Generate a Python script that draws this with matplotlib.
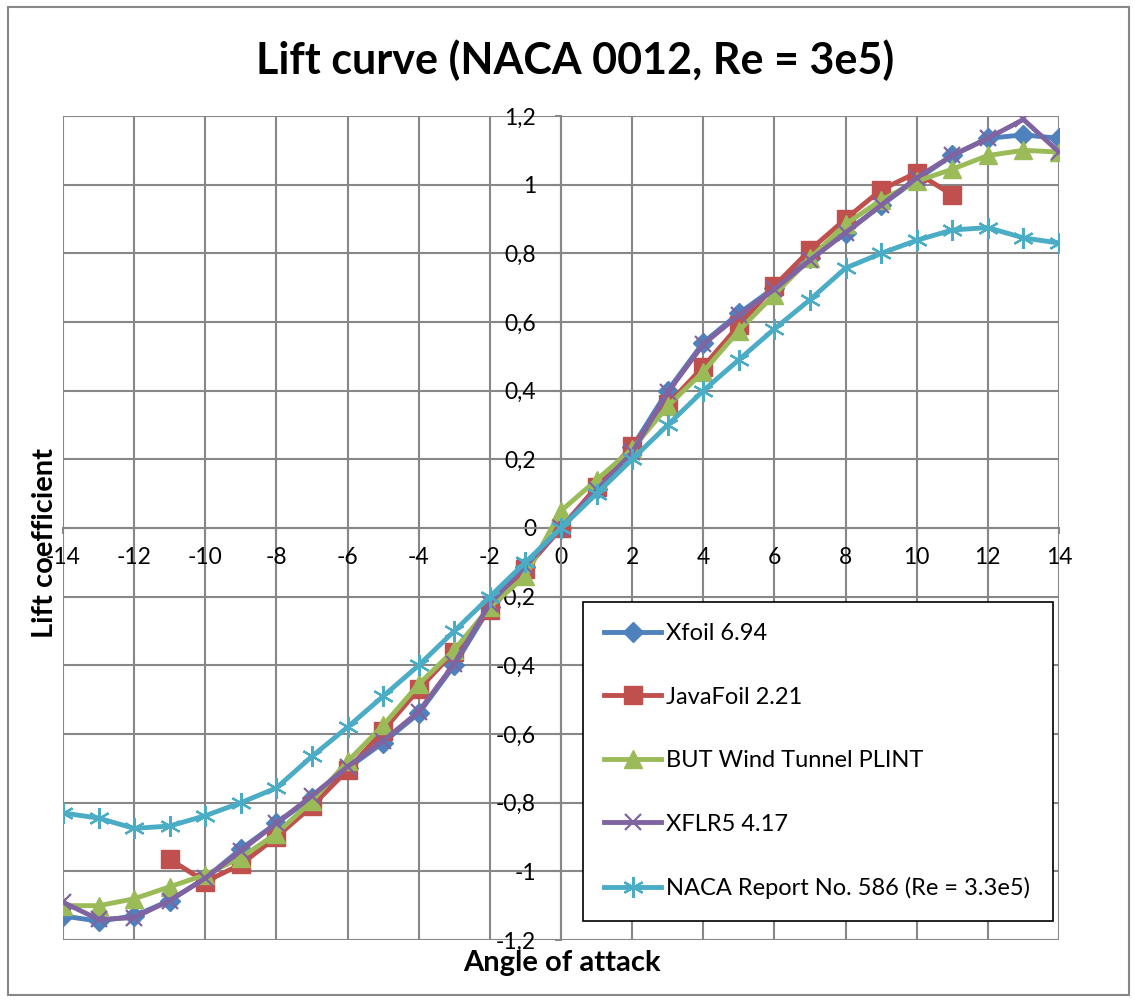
import matplotlib
matplotlib.use('Agg')
import matplotlib.pyplot as plt
from matplotlib.ticker import FuncFormatter, MultipleLocator
from matplotlib.patches import Rectangle

plt.rcParams['font.family'] = ['Lato', 'DejaVu Sans']

### Data ###

alpha_full = list(range(-14, 15))
alpha_javafoil = list(range(-11, 12))

cl_xfoil = [-1.13, -1.145, -1.13, -1.085, -1.02, -0.935, -0.86, -0.785, -0.70, -0.625,
            -0.54, -0.40, -0.23, -0.115, 0.0, 0.115, 0.235, 0.40, 0.54, 0.625,
            0.70, 0.785, 0.86, 0.94, 1.015, 1.085, 1.135, 1.145, 1.135]
cl_javafoil = [-0.965, -1.03, -0.98, -0.90, -0.81, -0.705, -0.59, -0.47, -0.36, -0.24,
               -0.12, 0.0, 0.12, 0.24, 0.36, 0.47, 0.59, 0.705, 0.81, 0.90,
               0.985, 1.035, 0.97]
cl_tunnel = [-1.10, -1.10, -1.08, -1.045, -1.01, -0.96, -0.89, -0.795, -0.68, -0.575,
             -0.455, -0.355, -0.23, -0.14, 0.05, 0.14, 0.23, 0.355, 0.455, 0.575,
             0.68, 0.785, 0.885, 0.955, 1.01, 1.045, 1.085, 1.10, 1.095]
cl_xflr5 = [-1.09, -1.14, -1.135, -1.085, -1.02, -0.94, -0.86, -0.78, -0.695, -0.62,
            -0.535, -0.395, -0.22, -0.11, 0.0, 0.11, 0.22, 0.395, 0.535, 0.62,
            0.695, 0.78, 0.86, 0.94, 1.02, 1.085, 1.135, 1.19, 1.095]
cl_naca = [-0.83, -0.845, -0.875, -0.868, -0.838, -0.80, -0.757, -0.665, -0.58, -0.49,
           -0.40, -0.30, -0.20, -0.10, 0.0, 0.10, 0.20, 0.30, 0.40, 0.49,
           0.58, 0.665, 0.757, 0.80, 0.838, 0.868, 0.875, 0.845, 0.83]

labels = ['Xfoil 6.94', 'JavaFoil 2.21', 'BUT Wind Tunnel PLINT', 'XFLR5 4.17',
          'NACA Report No. 586 (Re = 3.3e5)']

### Figure ###

fig = plt.figure(figsize=(11.35, 10.01), dpi=100)
ax = fig.add_axes([63 / 1135, 1 - 940 / 1001, (1059 - 63) / 1135, (940 - 116) / 1001])

grid_col = '#878787'

ax.plot(alpha_full, cl_xfoil, color='#4F81BD', lw=3.5, marker='D', ms=10,
        mfc='#4F81BD', mec='#4F81BD', label=labels[0], zorder=3)
ax.plot(alpha_javafoil, cl_javafoil, color='#C0504D', lw=3.5, marker='s', ms=13,
        mfc='#C0504D', mec='#C0504D', label=labels[1], zorder=3)
ax.plot(alpha_full, cl_tunnel, color='#9BBB59', lw=3.5, marker='^', ms=13,
        mfc='#9BBB59', mec='#9BBB59', label=labels[2], zorder=3)
ax.plot(alpha_full, cl_xflr5, color='#8064A2', lw=3.5, marker='x', ms=12, mew=1.6,
        mec='#8064A2', label=labels[3], zorder=3)
ax.plot(alpha_full, cl_naca, color='#4BACC6', lw=3.5, marker=(6, 2, 0), ms=15, mew=1.6,
        mec='#4BACC6', label=labels[4], zorder=3)

ax.set_xlim(-14, 14)
ax.set_ylim(-1.2, 1.2)
ax.xaxis.set_major_locator(MultipleLocator(2))
ax.yaxis.set_major_locator(MultipleLocator(0.2))


def comma_fmt(v, pos):
    s = f'{v:.1f}'
    if s.endswith('.0'):
        s = s[:-2]
    if s == '-0':
        s = '0'
    return s.replace('.', ',')


ax.xaxis.set_major_formatter(FuncFormatter(lambda v, p: f'{int(round(v))}'))
ax.yaxis.set_major_formatter(FuncFormatter(comma_fmt))

ax.grid(True, color=grid_col, lw=1.5)
for gl in ax.get_xgridlines() + ax.get_ygridlines():
    gl.set_clip_on(False)
ax.set_axisbelow(True)

ax.spines['left'].set_position('zero')
ax.spines['bottom'].set_position('zero')
ax.spines['top'].set_visible(False)
ax.spines['right'].set_visible(False)
for sp in ('left', 'bottom'):
    ax.spines[sp].set_color(grid_col)
    ax.spines[sp].set_linewidth(1.5)

ax.tick_params(axis='both', colors=grid_col, length=4, width=1.5, labelsize=16.5,
               labelcolor='black')
ax.tick_params(axis='y', pad=14)
ax.tick_params(axis='x', pad=10)

fig.text(562 / 1135, 1 - 963 / 1001, 'Angle of attack', fontsize=21, fontweight='bold',
         ha='center', va='center')
fig.text(45 / 1135, 1 - 543 / 1001, 'Lift coefficient', fontsize=21, fontweight='bold',
         ha='center', va='center', rotation=90)
fig.text(575 / 1135, 1 - 60 / 1001, 'Lift curve (NACA 0012, Re = 3e5)', fontsize=31,
         fontweight='bold', ha='center', va='center')

leg = ax.legend(loc='upper left',
                bbox_to_anchor=(583 / 1135, 1 - 916 / 1001, (1053 - 583) / 1135, (916 - 602) / 1001),
                bbox_transform=fig.transFigure, mode='expand', fontsize=17,
                labelspacing=1.8, borderpad=0.9, handlelength=2.4, handletextpad=0.2,
                fancybox=False, framealpha=1, edgecolor='black', borderaxespad=0)
leg.get_frame().set_linewidth(1.2)
leg.set_zorder(5)

fig.add_artist(Rectangle((8 / 1135, 6 / 1001), 1121 / 1135, 988 / 1001,
                         transform=fig.transFigure, fill=False, edgecolor=grid_col, lw=1.5))

fig.savefig('out.png', dpi=100)
